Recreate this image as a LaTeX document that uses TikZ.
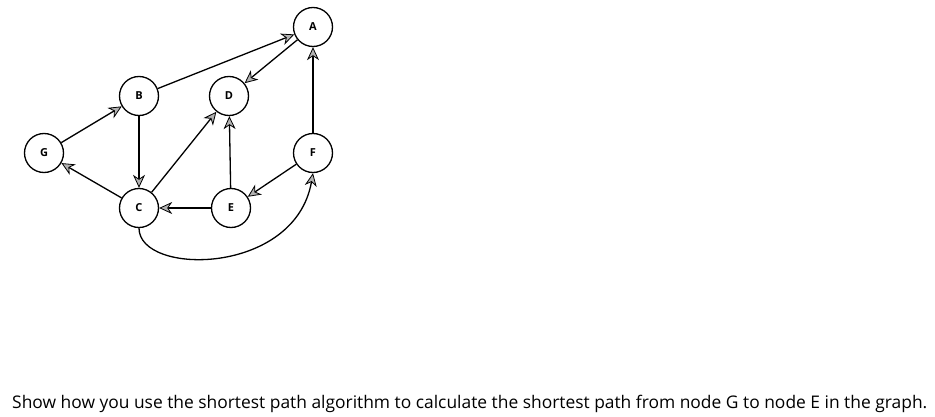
\documentclass[tikz,border=0pt]{standalone}
\usepackage{fontspec}
\setmainfont{Open Sans}
\usetikzlibrary{arrows.meta}
\begin{document}
\begin{tikzpicture}[x=1pt,y=1pt,
  vtx/.style={circle,draw,line width=1.3pt,minimum size=39pt,inner sep=0pt,font=\fontsize{11}{12}\selectfont\bfseries},
  edge/.style={line width=1.3pt,-{Stealth[length=13pt,width=12pt,inset=4pt,fill=gray!60,line width=0.8pt]}}]
\useasboundingbox (0,0) rectangle (935,416);
\node[vtx] (A) at (313,389) {A};
\node[vtx] (B) at (139,320) {B};
\node[vtx] (D) at (229,320) {D};
\node[vtx] (G) at (44,263) {G};
\node[vtx] (F) at (313,263) {F};
\node[vtx] (C) at (139,208) {C};
\node[vtx] (E) at (231,208) {E};
\draw[edge] (G) -- (B);
\draw[edge] (B) -- (A);
\draw[edge] (A) -- (D);
\draw[edge] (B) -- (C);
\draw[edge] (C) -- (G);
\draw[edge] (C) -- (D);
\draw[edge] (E) -- (D);
\draw[edge] (E) -- (C);
\draw[edge] (F) -- (E);
\draw[edge] (F) -- (A);
\draw[edge] (C.south) .. controls (139,140) and (295,140) .. (F.south);
\node[anchor=base west,inner sep=0pt,font=\fontsize{17.4}{20}\selectfont] (T) at (12,8) {Show how you use the shortest path algorithm to calculate the shortest path from node G to node E in the graph.};
\end{tikzpicture}
\end{document}
